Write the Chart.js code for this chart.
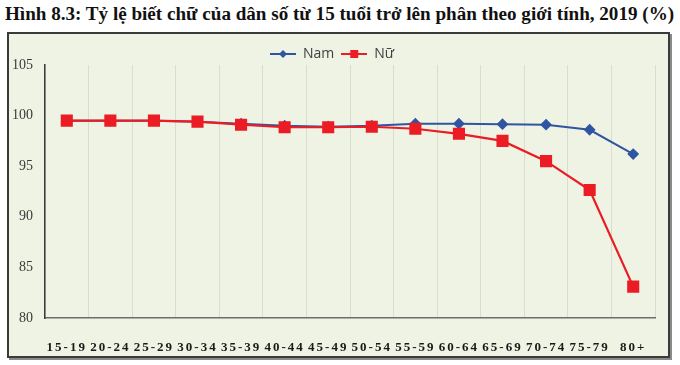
<!DOCTYPE html>
<html>
<head>
<meta charset="utf-8">
<script src="https://cdn.jsdelivr.net/npm/chart.js@4"></script>
<style>
  body { margin: 0; background: #fff; }
  #title {
    position: absolute; left: 5px; top: 3px;
    font: bold 19.1px "Liberation Serif", "Times New Roman", serif;
    color: #111; white-space: nowrap;
  }
  #box {
    position: absolute; left: 7px; top: 32px;
    width: 659px; height: 322px;
    border: 2px solid #3a3a3a;
    box-shadow: 2px 2px 0 #8a8a8a;
    background: #eef3e3;
  }
</style>
</head>
<body>
<div id="title">Hình 8.3: Tỷ lệ biết chữ của dân số từ 15 tuổi trở lên phân theo giới tính, 2019 (%)</div>
<div id="box"><canvas id="chart"></canvas></div>
<script>
const ageGroups = ["15-19", "20-24", "25-29", "30-34", "35-39", "40-44", "45-49",
  "50-54", "55-59", "60-64", "65-69", "70-74", "75-79", "80+"];
const male = [99.5, 99.5, 99.5, 99.4, 99.2, 99.0, 98.9, 99.0, 99.2, 99.2, 99.15, 99.1, 98.6, 96.2];
const female = [99.5, 99.5, 99.5, 99.4, 99.1, 98.85, 98.85, 98.9, 98.7, 98.2, 97.5, 95.5, 92.65, 83.1];
const yTicks = [80, 85, 90, 95, 100, 105];

const blue = "#2f55a3";
const red = "#ec1c24";

// small line+marker images for the legend
function legendIcon(color, shape) {
  const c = document.createElement("canvas");
  c.width = 26; c.height = 12;
  const g = c.getContext("2d");
  g.strokeStyle = color; g.fillStyle = color; g.lineWidth = 2;
  g.beginPath(); g.moveTo(0, 6); g.lineTo(26, 6); g.stroke();
  if (shape === "diamond") {
    g.beginPath(); g.moveTo(13, 2); g.lineTo(17, 6); g.lineTo(13, 10); g.lineTo(9, 6); g.closePath(); g.fill();
  } else {
    g.fillRect(9, 2, 8, 8);
  }
  return c;
}
const icons = [legendIcon(blue, "diamond"), legendIcon(red, "square")];

// spread out the x tick letters like the original, and keep the legend band short
const tweaks = {
  id: "tweaks",
  beforeLayout(chart) {
    const lg = chart.legend;
    if (lg && !lg._fixed) {
      const fit = lg.fit.bind(lg);
      lg.fit = function () { fit(); this.height = 25; };
      lg._fixed = true;
    }
  },
  beforeDraw(chart) {
    const x = chart.scales.x;
    if (x && !x._spaced) {
      const orig = x.drawLabels.bind(x);
      x.drawLabels = function (area) {
        this.ctx.save();
        this.ctx.letterSpacing = "2px";
        orig(area);
        this.ctx.restore();
      };
      x._spaced = true;
    }
  }
};

new Chart(document.getElementById("chart"), {
  type: "line",
  data: {
    labels: ageGroups,
    datasets: [
      {
        label: "Nam",
        data: male,
        borderColor: blue,
        backgroundColor: blue,
        borderWidth: 2,
        pointStyle: "rectRot",
        pointRadius: 4.5,
        pointHoverRadius: 4.5,
        order: 1
      },
      {
        label: "Nữ",
        data: female,
        borderColor: red,
        backgroundColor: red,
        borderWidth: 2.2,
        pointStyle: "rect",
        pointRadius: 7,
        pointHoverRadius: 7,
        order: 0
      }
    ]
  },
  options: {
    responsive: true,
    maintainAspectRatio: false,
    animation: false,
    layout: { padding: { left: 0, right: 13, top: 6, bottom: 0 } },
    plugins: {
      legend: {
        position: "top",
        labels: {
          usePointStyle: true,
          pointStyleWidth: 26,
          padding: 7,
          color: "#404040",
          font: { family: "'Open Sans', 'Liberation Sans', sans-serif", size: 14 },
          sort: (a, b) => a.datasetIndex - b.datasetIndex,
          generateLabels(chart) {
            const items = Chart.defaults.plugins.legend.labels.generateLabels(chart);
            items.forEach(it => { it.pointStyle = icons[it.datasetIndex]; });
            return items;
          }
        }
      },
      tooltip: { enabled: false },
      title: { display: false }
    },
    scales: {
      x: {
        offset: true,
        afterFit(scale) { scale.height = 38; },
        grid: { offset: true, color: "#d9ddd0", drawTicks: false },
        border: { color: "#6d6d6d", width: 1.5 },
        ticks: {
          autoSkip: false, maxRotation: 0, padding: 22,
          color: "#1a1a1a",
          font: { family: "'Liberation Serif', serif", size: 13, weight: "bold" }
        }
      },
      y: {
        min: 80, max: 105,
        afterBuildTicks(scale) { scale.ticks = yTicks.map(v => ({ value: v })); },
        afterFit(scale) { scale.width = 36; },
        grid: { display: false, drawTicks: false },
        border: { color: "#3a3a3a", width: 1.5 },
        ticks: {
          padding: 12,
          color: "#3a3a3a",
          font: { family: "'Liberation Serif', serif", size: 14 }
        }
      }
    }
  },
  plugins: [tweaks]
});
</script>
</body>
</html>
